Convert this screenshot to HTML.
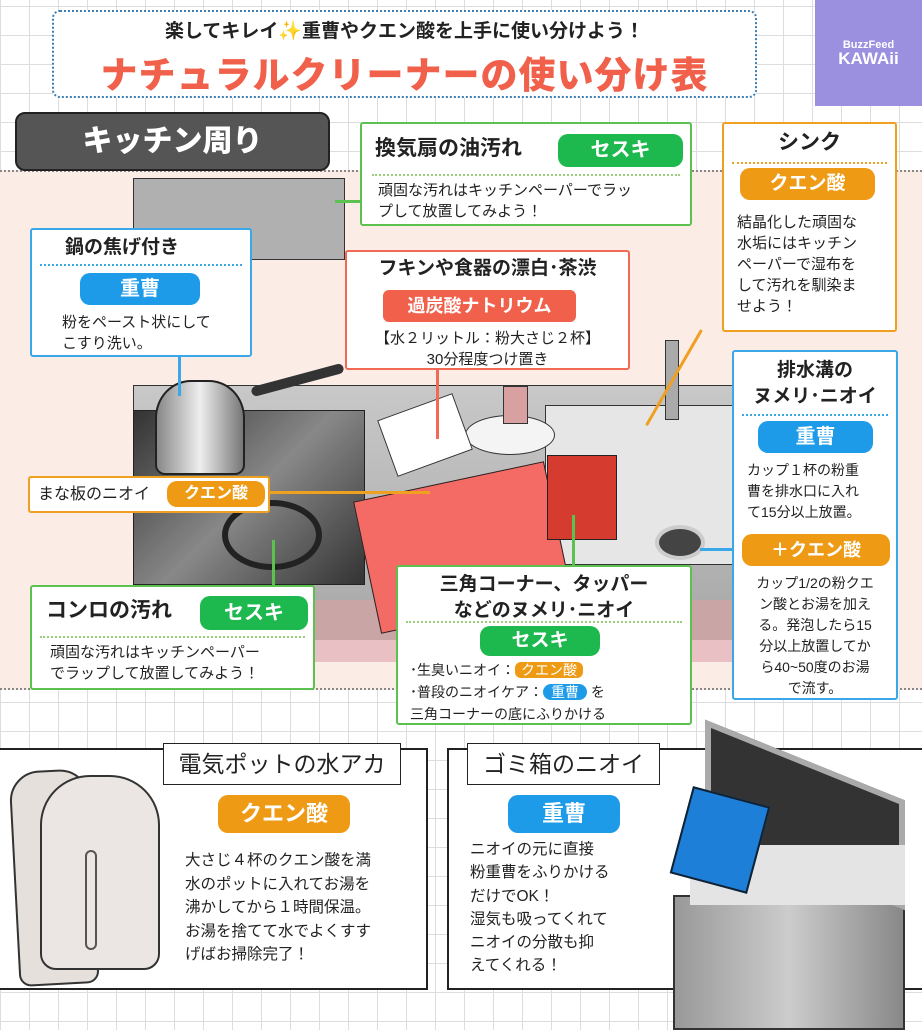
<!DOCTYPE html>
<html><head><meta charset="utf-8"><style>
*{margin:0;padding:0;box-sizing:border-box}
body{width:922px;height:1024px;position:relative;overflow:hidden;font-family:"Liberation Sans","Noto Sans CJK JP",sans-serif;color:#222;
background-color:#fff;background-image:linear-gradient(#ddd 1px,transparent 1px),linear-gradient(90deg,#ddd 1px,transparent 1px);background-size:29px 29px;background-position:0 6px}
.a{position:absolute}
.box{position:absolute;background:#fff;border:2.5px solid;border-radius:3px}
.g{border-color:#5cc24f}.o{border-color:#f0a020}.b{border-color:#3aa8e8}.r{border-color:#f06a55}
.badge{position:absolute;color:#fff;border-radius:10px;text-align:center;font-weight:bold}
.bg{background:#1db84e}.bo{background:#ee9a14}.bb{background:#1e9be8}.br{background:#f0604a}
.t{position:absolute;font-size:15px;line-height:21px}
.dot{position:absolute;border-top:2px dotted #9ccf7a;height:0}
.ln{position:absolute;width:3px}
</style></head><body>
<div class="a" style="left:0;top:170px;width:922px;height:520px;background:#fcece6;border-top:2px dotted #888;border-bottom:2px dotted #888"></div>
<div class="a" style="left:133px;top:178px;width:212px;height:82px;background:#b0b0b0;border:1.5px solid #333"></div>
<div class="a" style="left:133px;top:385px;width:610px;height:250px;background:linear-gradient(#c8c8c8,#a8a8a8);border:1.5px solid #333"></div>
<div class="a" style="left:133px;top:600px;width:610px;height:40px;background:#c9a5a5"></div>
<div class="a" style="left:133px;top:640px;width:610px;height:22px;background:#e9c0c3"></div>
<div class="a" style="left:545px;top:405px;width:195px;height:160px;background:#e6e6e6;border:1.5px solid #333"></div>
<div class="a" style="left:133px;top:410px;width:232px;height:175px;background:linear-gradient(135deg,#333,#888 50%,#333);border:1.5px solid #222"></div>
<div class="a" style="left:222px;top:500px;width:100px;height:70px;border:6px solid #222;border-radius:50%"></div>
<div class="a" style="left:155px;top:380px;width:90px;height:95px;background:linear-gradient(90deg,#888,#eee,#777);border:2px solid #222;border-radius:40% 40% 10px 10px"></div>
<div class="a" style="left:250px;top:375px;width:95px;height:10px;background:#333;transform:rotate(-15deg);border-radius:5px"></div>
<div class="a" style="left:365px;top:480px;width:195px;height:135px;background:#f46a64;border:1.5px solid #222;transform:rotate(-12deg)"></div>
<div class="a" style="left:547px;top:455px;width:70px;height:85px;background:#d63b30;border:1.5px solid #222"></div>
<div class="a" style="left:465px;top:415px;width:90px;height:40px;background:#f4f4f4;border:1.5px solid #333;border-radius:50%"></div>
<div class="a" style="left:503px;top:386px;width:25px;height:38px;background:#d8a0a0;border:1.5px solid #333"></div>
<div class="a" style="left:385px;top:405px;width:80px;height:60px;background:#fff;border:1.5px solid #333;transform:rotate(-20deg)"></div>
<div class="a" style="left:655px;top:525px;width:50px;height:35px;background:#444;border:4px solid #ccc;border-radius:50%"></div>
<div class="a" style="left:665px;top:340px;width:14px;height:80px;background:#aaa;border:1.5px solid #333"></div>

<!-- connectors -->
<div class="ln" style="left:178px;top:356px;height:40px;background:#3aa8e8"></div>
<div class="ln" style="left:436px;top:369px;height:70px;background:#f06a55"></div>
<div class="ln" style="left:700px;top:330px;height:110px;background:#f0a020;transform:rotate(30deg);transform-origin:top"></div>
<div class="ln" style="left:272px;top:540px;height:46px;background:#5cc24f"></div>
<div class="ln" style="left:572px;top:515px;height:51px;background:#5cc24f"></div>
<div class="a" style="left:700px;top:548px;width:34px;height:3px;background:#3aa8e8"></div>
<div class="a" style="left:335px;top:200px;width:28px;height:3px;background:#5cc24f"></div>

<div class="a" style="left:52px;top:10px;width:705px;height:88px;background:#fff;border:2px dotted #3f7fb0;border-radius:8px"></div>
<div class="a" style="left:52px;top:16px;width:705px;text-align:center;font-size:19px;font-weight:bold">楽してキレイ✨重曹やクエン酸を上手に使い分けよう！</div>
<div class="a" style="left:52px;top:45px;width:705px;text-align:center;font-size:37px;font-weight:900;color:#f0604a;letter-spacing:1px">ナチュラルクリーナーの使い分け表</div>
<div class="a" style="left:815px;top:0;width:107px;height:106px;background:#9b8fe0;color:#fff;text-align:center;font-weight:bold;padding-top:38px;font-size:11px;line-height:14px">BuzzFeed<br><span style="font-size:17px">KAWAii</span></div>
<div class="a" style="left:15px;top:112px;width:315px;height:59px;background:#555;border:2px solid #222;border-radius:10px;color:#fff;font-size:30px;font-weight:900;text-align:center;line-height:55px">キッチン周り</div>

<div class="box g" style="left:360px;top:122px;width:332px;height:104px"></div>
<div class="t" style="left:375px;top:138px;font-size:21px;font-weight:bold">換気扇の油汚れ</div>
<div class="badge bg" style="left:558px;top:134px;width:125px;height:33px;font-size:20px;line-height:33px">セスキ</div>
<div class="dot" style="left:372px;top:174px;width:308px"></div>
<div class="t" style="left:378px;top:180px">頑固な汚れはキッチンペーパーでラッ<br>プして放置してみよう！</div>

<div class="box o" style="left:722px;top:122px;width:175px;height:210px"></div>
<div class="t" style="left:722px;top:132px;width:175px;text-align:center;font-size:21px;font-weight:bold">シンク</div>
<div class="dot" style="left:732px;top:162px;width:155px;border-color:#f0a020"></div>
<div class="badge bo" style="left:740px;top:168px;width:135px;height:32px;font-size:19px;line-height:32px">クエン酸</div>
<div class="t" style="left:737px;top:212px">結晶化した頑固な<br>水垢にはキッチン<br>ペーパーで湿布を<br>して汚れを馴染ま<br>せよう！</div>

<div class="box b" style="left:30px;top:228px;width:222px;height:129px"></div>
<div class="t" style="left:65px;top:237px;font-size:19px;font-weight:bold">鍋の焦げ付き</div>
<div class="dot" style="left:40px;top:264px;width:202px;border-color:#3aa8e8"></div>
<div class="badge bb" style="left:80px;top:273px;width:120px;height:32px;font-size:20px;line-height:32px">重曹</div>
<div class="t" style="left:62px;top:312px">粉をペースト状にして<br>こすり洗い。</div>

<div class="box r" style="left:345px;top:250px;width:285px;height:120px"></div>
<div class="t" style="left:345px;top:258px;width:285px;text-align:center;font-size:19px;font-weight:bold">フキンや食器の漂白･茶渋</div>
<div class="badge br" style="left:383px;top:290px;width:193px;height:32px;font-size:18px;line-height:32px;border-radius:6px">過炭酸ナトリウム</div>
<div class="t" style="left:345px;top:328px;width:285px;text-align:center">【水２リットル：粉大さじ２杯】<br>30分程度つけ置き</div>

<div class="box b" style="left:732px;top:350px;width:166px;height:350px"></div>
<div class="t" style="left:732px;top:358px;width:166px;text-align:center;font-size:19px;font-weight:bold;line-height:26px">排水溝の<br>ヌメリ･ニオイ</div>
<div class="dot" style="left:742px;top:414px;width:146px;border-color:#3aa8e8"></div>
<div class="badge bb" style="left:758px;top:421px;width:115px;height:32px;font-size:20px;line-height:32px">重曹</div>
<div class="t" style="left:747px;top:460px;font-size:14px">カップ１杯の粉重<br>曹を排水口に入れ<br>て15分以上放置。</div>
<div class="badge bo" style="left:742px;top:534px;width:148px;height:32px;font-size:18px;line-height:32px">＋クエン酸</div>
<div class="t" style="left:737px;top:573px;width:156px;text-align:center;font-size:14px">カップ1/2の粉クエ<br>ン酸とお湯を加え<br>る。発泡したら15<br>分以上放置してか<br>ら40~50度のお湯<br>で流す。</div>

<div class="box o" style="left:28px;top:476px;width:242px;height:37px"></div>
<div class="t" style="left:38px;top:484px;font-size:16px">まな板のニオイ</div>
<div class="badge bo" style="left:167px;top:481px;width:98px;height:26px;font-size:16px;line-height:26px">クエン酸</div>
<div class="a" style="left:270px;top:491px;width:160px;height:3px;background:#f0a020"></div>

<div class="box g" style="left:30px;top:585px;width:285px;height:105px"></div>
<div class="t" style="left:46px;top:600px;font-size:21px;font-weight:bold">コンロの汚れ</div>
<div class="badge bg" style="left:200px;top:596px;width:108px;height:34px;font-size:20px;line-height:34px">セスキ</div>
<div class="dot" style="left:40px;top:636px;width:265px"></div>
<div class="t" style="left:50px;top:642px">頑固な汚れはキッチンペーパー<br>でラップして放置してみよう！</div>

<div class="box g" style="left:396px;top:565px;width:296px;height:160px"></div>
<div class="t" style="left:396px;top:572px;width:296px;text-align:center;font-size:19px;font-weight:bold;line-height:26px">三角コーナー、タッパー<br>などのヌメリ･ニオイ</div>
<div class="dot" style="left:406px;top:621px;width:276px"></div>
<div class="badge bg" style="left:480px;top:626px;width:120px;height:30px;font-size:19px;line-height:30px">セスキ</div>
<div class="t" style="left:410px;top:659px;font-size:14px;line-height:22px">･生臭いニオイ：<span style="background:#ee9a14;color:#fff;border-radius:6px;padding:0 6px">クエン酸</span><br>･普段のニオイケア：<span style="background:#1e9be8;color:#fff;border-radius:8px;padding:0 8px">重曹</span> を<br>三角コーナーの底にふりかける</div>

<div class="a" style="left:-3px;top:748px;width:431px;height:242px;background:#fff;border:2px solid #222"></div>
<div class="a" style="left:447px;top:748px;width:480px;height:242px;background:#fff;border:2px solid #222"></div>
<div class="a" style="left:163px;top:743px;width:238px;height:42px;background:#fff;border:1.5px solid #222;font-size:23px;text-align:center;line-height:40px">電気ポットの水アカ</div>
<div class="a" style="left:467px;top:743px;width:193px;height:42px;background:#fff;border:1.5px solid #222;font-size:23px;text-align:center;line-height:40px">ゴミ箱のニオイ</div>
<div class="a" style="left:14px;top:770px;width:80px;height:215px;background:#e5e0dc;border:2px solid #333;border-radius:30px 30px 12px 12px;transform:rotate(-3deg)"></div>
<div class="a" style="left:40px;top:775px;width:120px;height:195px;background:#ebe6e3;border:2px solid #333;border-radius:50px 50px 16px 16px"></div>
<div class="a" style="left:85px;top:850px;width:12px;height:100px;border:2px solid #555;border-radius:6px"></div>
<div class="badge bo" style="left:218px;top:795px;width:132px;height:38px;font-size:22px;line-height:38px">クエン酸</div>
<div class="t" style="left:185px;top:849px;font-size:15.5px;line-height:23.5px">大さじ４杯のクエン酸を満<br>水のポットに入れてお湯を<br>沸かしてから１時間保温。<br>お湯を捨てて水でよくすす<br>げばお掃除完了！</div>
<div class="badge bb" style="left:508px;top:795px;width:112px;height:38px;font-size:22px;line-height:38px">重曹</div>
<div class="t" style="left:470px;top:838px;font-size:15.5px;line-height:23.3px">ニオイの元に直接<br>粉重曹をふりかける<br>だけでOK！<br>湿気も吸ってくれて<br>ニオイの分散も抑<br>えてくれる！</div>
<div class="a" style="left:673px;top:895px;width:232px;height:135px;background:linear-gradient(90deg,#999,#ccc,#888);border:2px solid #333"></div>
<div class="a" style="left:705px;top:760px;width:200px;height:110px;background:#333;border:6px solid #aaa;transform:skewY(22deg)"></div>
<div class="a" style="left:690px;top:845px;width:215px;height:60px;background:#e4e4e4"></div>
<div class="a" style="left:680px;top:795px;width:80px;height:90px;background:#1e7fd8;border:2px solid #123;transform:rotate(15deg)"></div>
</body></html>
